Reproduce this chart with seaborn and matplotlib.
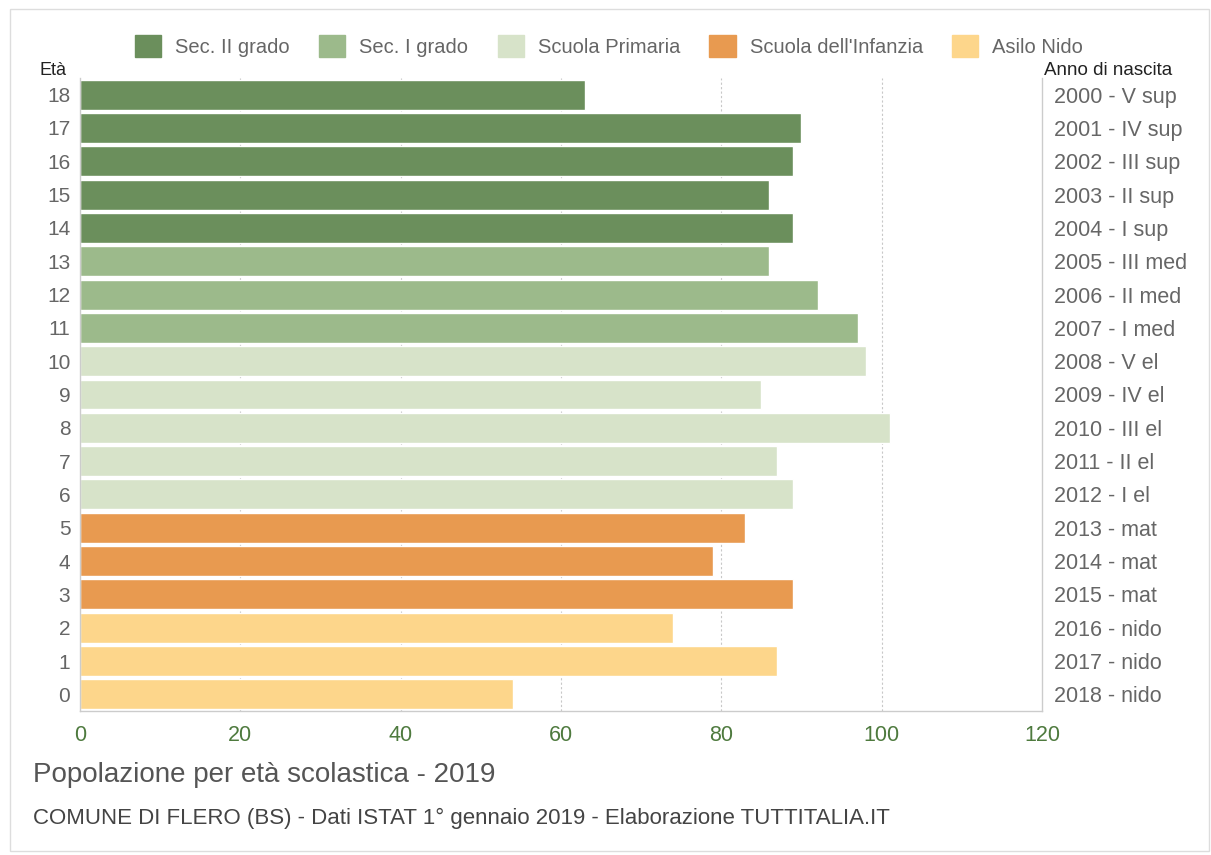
import matplotlib
matplotlib.use("Agg")
import matplotlib.pyplot as plt
import seaborn as sns
import pandas as pd
from matplotlib.patches import Rectangle

ages = [18, 17, 16, 15, 14, 13, 12, 11, 10, 9, 8, 7, 6, 5, 4, 3, 2, 1, 0]
values = [63, 90, 89, 86, 89, 86, 92, 97, 98, 85, 101, 87, 89, 83, 79, 89, 74, 87, 54]
groups = (["Sec. II grado"] * 5 + ["Sec. I grado"] * 3 + ["Scuola Primaria"] * 5
          + ["Scuola dell'Infanzia"] * 3 + ["Asilo Nido"] * 3)
right_labels = ["2000 - V sup", "2001 - IV sup", "2002 - III sup", "2003 - II sup", "2004 - I sup",
                "2005 - III med", "2006 - II med", "2007 - I med",
                "2008 - V el", "2009 - IV el", "2010 - III el", "2011 - II el", "2012 - I el",
                "2013 - mat", "2014 - mat", "2015 - mat",
                "2016 - nido", "2017 - nido", "2018 - nido"]
legend_order = ["Sec. II grado", "Sec. I grado", "Scuola Primaria", "Scuola dell'Infanzia", "Asilo Nido"]
colors = ["#6b8f5c", "#9cba8b", "#d7e3c9", "#e89a50", "#fdd68b"]
x_ticks = [0, 20, 40, 60, 80, 100, 120]

df = pd.DataFrame({"age": [str(a) for a in ages], "value": values, "group": groups})

sns.set_style("white")
plt.rcParams['font.family'] = ['Liberation Sans', 'DejaVu Sans']

fig = plt.figure(figsize=(12.11, 8.55), dpi=100)
ax = fig.add_axes([0.0661, 0.1684, 0.7943, 0.7404])

sns.barplot(data=df, x="value", y="age", hue="group", order=[str(a) for a in ages],
            hue_order=legend_order, palette=dict(zip(legend_order, colors)),
            dodge=False, width=0.9, orient="h", ax=ax, legend=False, saturation=1)

ax.set_xlim(0, 120)
ax.set_ylim(18.5, -0.5)
ax.set_xticks(x_ticks)
ax.set_xticklabels([str(t) for t in x_ticks], color="#4e7a3e", fontsize=15.5)
ax.tick_params(axis="x", length=5, color="#cccccc", pad=5)
ax.tick_params(axis="y", length=0, labelsize=15, labelcolor="#666666", pad=7)
ax.set_xlabel("")
ax.set_ylabel("")
for x in x_ticks[1:-1]:
    ax.axvline(x, color="#c8c8c8", lw=0.8, ls=(0, (2, 2)), zorder=0)
ax.spines["top"].set_visible(False)
for s in ["left", "bottom", "right"]:
    ax.spines[s].set_color("#cccccc")
    ax.spines[s].set_linewidth(1)

ax2 = ax.twinx()
ax2.set_ylim(ax.get_ylim())
ax2.set_yticks(range(len(ages)))
ax2.set_yticklabels(right_labels, fontsize=15.5, color="#666666")
ax2.tick_params(axis="y", length=0, pad=9)
for s in ["top", "left", "bottom", "right"]:
    ax2.spines[s].set_visible(False)

fig.text(0.033, 0.918, "Età", fontsize=13, color="#222222", ha="left", va="center")
fig.text(0.862, 0.918, "Anno di nascita", fontsize=13.5, color="#222222", ha="left", va="center")

handles = [Rectangle((0, 0), 1, 1, color=c) for c in colors]
fig.legend(handles, legend_order, loc="center", bbox_to_anchor=(0.503, 0.946), ncol=5,
           frameon=False, fontsize=14.5, handlelength=1.3, handleheight=1.3,
           columnspacing=1.45, handletextpad=0.7, labelcolor="#666666")

fig.text(0.027, 0.094, "Popolazione per età scolastica - 2019", fontsize=20, color="#555555",
         ha="left", va="center")
fig.text(0.027, 0.043, "COMUNE DI FLERO (BS) - Dati ISTAT 1° gennaio 2019 - Elaborazione TUTTITALIA.IT",
         fontsize=16, color="#444444", ha="left", va="center")

fig.patches.append(Rectangle((0.008, 0.005), 0.99, 0.985, transform=fig.transFigure,
                             fill=False, edgecolor="#dddddd", lw=1))

fig.savefig("out.png", dpi=100)
